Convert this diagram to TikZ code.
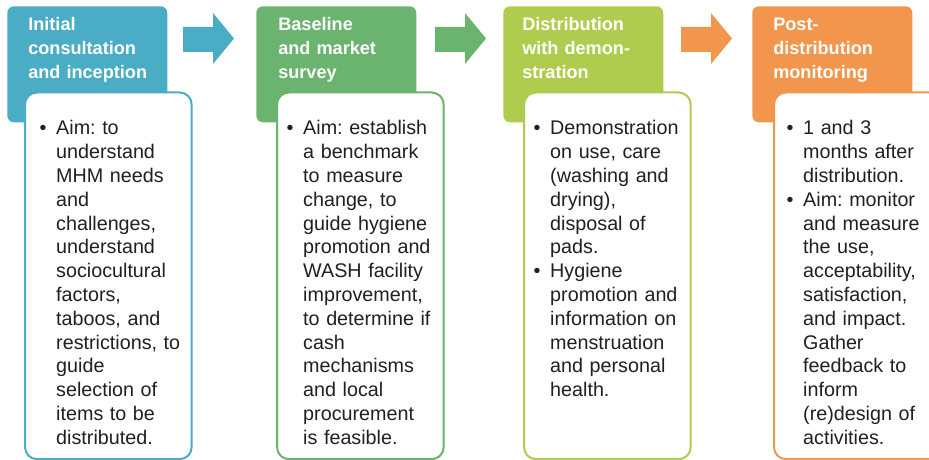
\documentclass[tikz,border=0pt]{standalone}
\usepackage{fontspec}
\setmainfont{Liberation Sans}
\usepackage{xcolor}
\usepackage{tikz}

\definecolor{stepblue}{HTML}{4BACC6}
\definecolor{stepgreen}{HTML}{6BB46F}
\definecolor{steplime}{HTML}{B0CC4E}
\definecolor{steporange}{HTML}{F2964D}
\definecolor{bodytext}{HTML}{231F20}

% bullet with hanging indent for the lists (end each item with \par)
\newcommand{\bul}{\hangindent=12.5pt\hangafter=1\noindent\makebox[12.5pt][l]{\textbullet}\ignorespaces}

\begin{document}
\frenchspacing
\begin{tikzpicture}[x=0.75pt, y=-0.75pt,
stage/.style={rectangle, rounded corners=5pt, minimum width=120pt, minimum height=87pt, inner sep=0, anchor=north west},
detail/.style={rectangle, rounded corners=9pt, fill=white, line width=1.5pt, minimum width=125pt, minimum height=275pt, inner sep=0, anchor=north west},
title/.style={anchor=base west, inner sep=0, text=white, text width=118pt, align=left, font=\fontsize{13.6}{18}\selectfont\bfseries},
points/.style={anchor=base west, inner sep=0, text=bodytext, text width=118pt, font=\fontsize{14.8}{17.85}\selectfont}
]
\useasboundingbox (0,0) rectangle (929,460);

% arrows between the stages
\foreach \x/\col in {183/stepblue, 435/stepgreen, 681/steporange}
  \fill[\col, shift={(\x,0)}] (0,27) -- (30,27) -- (30,13) -- (51,38.5) -- (30,64) -- (30,52) -- (0,52) -- cycle;

\node[stage, fill=stepblue] (s1) at (7,6) {};
\node[stage, fill=stepgreen] (s2) at (256,6) {};
\node[stage, fill=steplime] (s3) at (503,6) {};
\node[stage, fill=steporange] (s4) at (752,6) {};

\node[detail, draw=stepblue] (d1) at (24,91.5) {};
\node[detail, draw=stepgreen] (d2) at (276,91.5) {};
\node[detail, draw=steplime] (d3) at (523,91.5) {};
\node[detail, draw=steporange] (d4) at (773,91.5) {};

\node[title] (t1) at (28,31) {Initial\\consultation\\and inception};
\node[title] (t2) at (278,31) {Baseline\\and market\\survey};
\node[title] (t3) at (522,31) {Distribution\\with demon-\\stration};
\node[title] (t4) at (773,31) {Post-\\distribution\\monitoring};

\node[points] (p1) at (39.3,135) {\bul Aim: to\newline understand\newline MHM needs\newline and\newline challenges,\newline understand\newline sociocultural\newline factors,\newline taboos, and\newline restrictions, to\newline guide\newline selection of\newline items to be\newline distributed.\par};
\node[points] (p2) at (286.3,135) {\bul Aim: establish\newline a benchmark\newline to measure\newline change, to\newline guide hygiene\newline promotion and\newline WASH facility\newline improvement,\newline to determine if\newline cash\newline mechanisms\newline and local\newline procurement\newline is feasible.\par};
\node[points] (p3) at (533.3,135) {\bul Demonstration\newline on use, care\newline (washing and\newline drying),\newline disposal of\newline pads.\par
  \bul Hygiene\newline promotion and\newline information on\newline menstruation\newline and personal\newline health.\par};
\node[points] (p4) at (786.3,135) {\bul 1 and 3\newline months after\newline distribution.\par
  \bul Aim: monitor\newline and measure\newline the use,\newline acceptability,\newline satisfaction,\newline and impact.\newline Gather\newline feedback to\newline inform\newline (re)design of\newline activities.\par};

\end{tikzpicture}
\end{document}
